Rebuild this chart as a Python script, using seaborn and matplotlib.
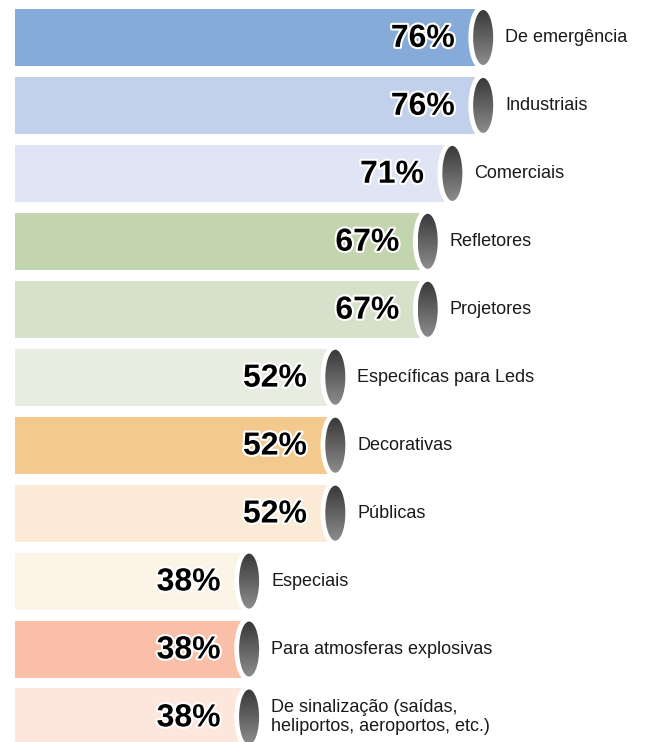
import numpy as np
import matplotlib
matplotlib.use("Agg")
import matplotlib.pyplot as plt
import matplotlib.patheffects as pe
from matplotlib.patches import Ellipse
import seaborn as sns

# data
categories = ["De emergência", "Industriais", "Comerciais", "Refletores", "Projetores",
              "Específicas para Leds", "Decorativas", "Públicas", "Especiais",
              "Para atmosferas explosivas",
              "De sinalização (saídas,\nheliportos, aeroportos, etc.)"]
values = [76, 76, 71, 67, 67, 52, 52, 52, 38, 38, 38]
bar_colors = ["#87ABD9", "#C1D1EB", "#DFE5F4", "#C2D5AF", "#D5E1C8", "#E7EDE0",
              "#F3C98E", "#FAEAD6", "#FDF4E8", "#F9BFA8", "#FDE6DB"]

sns.set_style("white")
plt.rcParams["font.family"] = ["Liberation Sans", "DejaVu Sans"]

W, H = 646, 742
fig = plt.figure(figsize=(W / 100, H / 100), dpi=100)
ax = fig.add_axes([15 / W, 0, (W - 15) / W, 1])

bar_h = 0.84
sns.barplot(x=values, y=categories, hue=categories, palette=bar_colors,
            orient="h", width=bar_h, linewidth=0, legend=False, ax=ax, saturation=1)

px = 6.16  # pixels per percent
ax.set_xlim(0, (W - 15) / px)
pitch = 67.95
ax.set_ylim((H - 37.5) / pitch, -37.5 / pitch)
ax.axis("off")

grad = np.linspace(0, 1, 64).reshape(-1, 1)
cmap = matplotlib.colors.LinearSegmentedColormap.from_list("cap", ["#383838", "#8c8c8c"])

for i, (v, lab) in enumerate(zip(values, categories)):
    # white rim of the cylinder end
    rim = Ellipse((v - 0.3, i), 4.2, 0.94, facecolor="white", edgecolor="none", zorder=3)
    ax.add_patch(rim)
    # dark cap with a vertical gradient
    cw, ch = 3.25, 0.81
    cap = Ellipse((v, i), cw, ch, facecolor="none", edgecolor="none", zorder=4)
    ax.add_patch(cap)
    im = ax.imshow(grad, cmap=cmap, aspect="auto", zorder=4,
                   extent=[v - cw / 2, v + cw / 2, i + ch / 2, i - ch / 2])
    im.set_clip_path(cap)

    ax.text(v - 4.6, i + 0.02, f"{v}%", ha="right", va="center", fontsize=23,
            fontweight="bold", color="black", zorder=5,
            path_effects=[pe.withStroke(linewidth=3, foreground="white")])
    ax.text(v + 3.6, i, lab, ha="left", va="center", fontsize=13,
            color="#1a1a1a", zorder=5, linespacing=1.15)

ax.set_xlim(0, (W - 15) / px)
ax.set_ylim((H - 37.5) / pitch, -37.5 / pitch)

fig.savefig("out.png", dpi=100)
